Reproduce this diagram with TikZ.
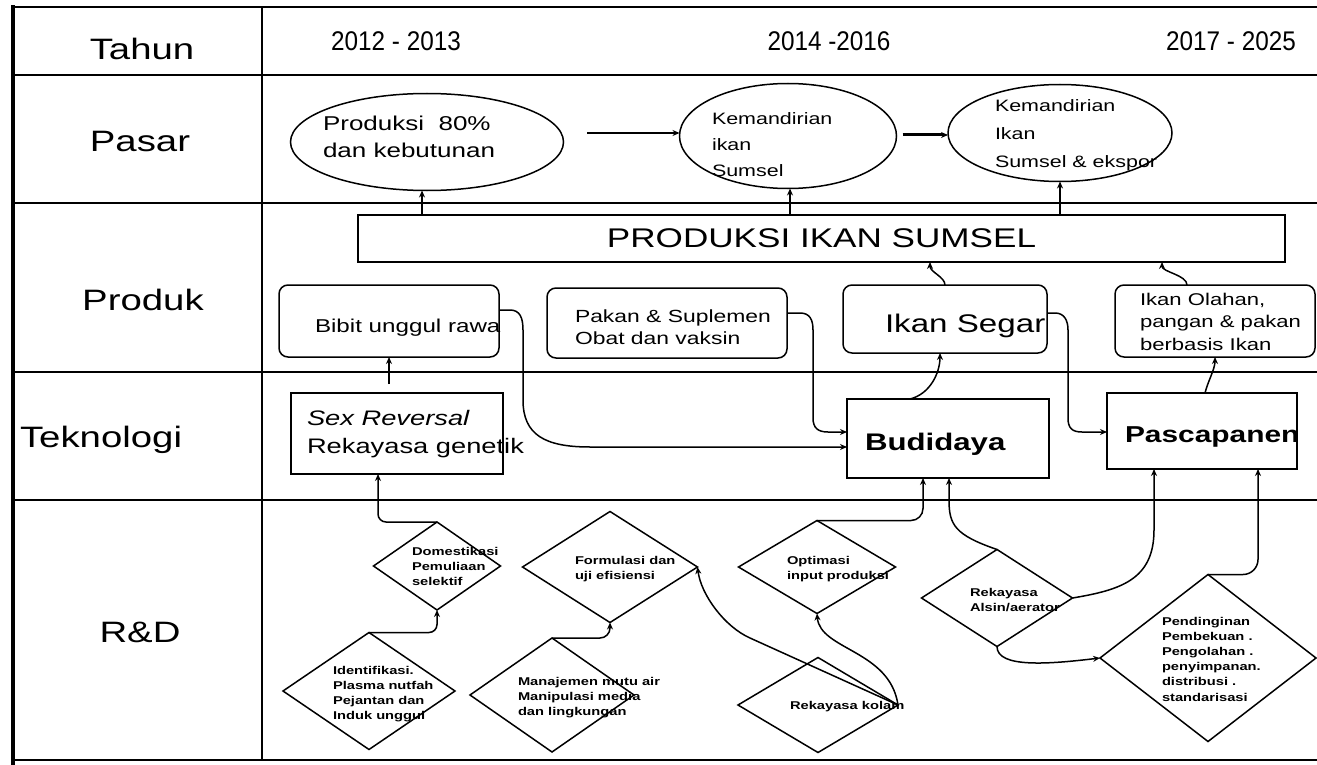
\documentclass[tikz,border=0pt]{standalone}
\usepackage{fontspec}
\setmainfont{Liberation Sans}[FakeStretch=1.3]
\newfontfamily\yearfont{Liberation Sans}[FakeStretch=0.9]
\usetikzlibrary{shapes.geometric,arrows.meta,calc}
\newcommand{\fsz}[2]{\fontsize{#1}{#2}\selectfont}
\begin{document}
\begin{tikzpicture}[x=1pt,y=-1pt,
  every node/.style={inner sep=0pt,outer sep=0pt},
  gridline/.style={line width=1.5pt},
  shp/.style={draw,line width=1.5pt},
  arr/.style={line width=1.5pt,-{Stealth[length=7pt,width=6pt]}},
  rowlbl/.style={font=\fsz{29.5}{30},anchor=base},
  yearlbl/.style={font=\yearfont\fsz{27}{27},anchor=base},
  ell/.style={shp,ellipse},
  rbox/.style={shp,rectangle,rounded corners=9pt},
  sbox/.style={shp,rectangle},
  dia/.style={shp,diamond},
  etxt/.style={align=left,anchor=north west},
  dtxt/.style={font=\bfseries\fsz{11.3}{15.2},align=left,anchor=north west},
]
\useasboundingbox (0,0) rectangle (1317,765);
% table grid
\draw[gridline] (13,7) -- (1317,7);
\draw[line width=3.5pt] (13,5.5) -- (13,765);
\draw[gridline] (262,7) -- (262,760);
\foreach \yy in {75,203,372,500} \draw[gridline] (13,\yy) -- (1317,\yy);
\draw[gridline] (13,760) -- (1317,760);
% row and column labels
\node[rowlbl] (tahun) at (142,60) {Tahun};
\node[rowlbl] (pasar) at (140,152) {Pasar};
\node[rowlbl] (produk) at (143,310) {Produk};
\node[rowlbl,anchor=base west] (tekno) at (20,447) {Teknologi};
\node[rowlbl] (rnd) at (140,642) {R\&D};
\node[yearlbl] (y1) at (396,51) {2012 - 2013};
\node[yearlbl] (y2) at (829,51) {2014 -2016};
\node[yearlbl] (y3) at (1231,51) {2017 - 2025};
% Pasar
\node[ell,minimum width=273pt,minimum height=97pt] (e1) at (427,142) {};
\node[ell,minimum width=217pt,minimum height=105pt] (e2) at (788,136) {};
\node[ell,minimum width=224pt,minimum height=97pt] (e3) at (1060,133) {};
\node[etxt,font=\fsz{20}{27}] (t1) at (323,116) {Produksi\ \ 80\%\\dan kebutunan};
\node[etxt,font=\fsz{16.5}{26}] (t2) at (712,113) {Kemandirian\\ikan\\Sumsel};
\node[etxt,font=\fsz{16.5}{28}] (t3) at (995,100) {Kemandirian\\Ikan\\Sumsel \& ekspor};
% Produksi box
\node[sbox,minimum width=927pt,minimum height=47pt,font=\fsz{27}{27}] (prod) at (821.5,238.5) {PRODUKSI IKAN SUMSEL};
% Produk
\node[rbox,minimum width=220pt,minimum height=72pt] (bibit) at (389,321) {};
\node[anchor=base west,font=\fsz{18.6}{20}] (tbibit) at (315,332) {Bibit unggul rawa};
\node[rbox,minimum width=240pt,minimum height=70pt] (pak) at (667,323) {};
\node[etxt,font=\fsz{17.6}{22}] (tpak) at (575,310) {Pakan \& Suplemen\\Obat dan vaksin};
\node[rbox,minimum width=204pt,minimum height=68pt] (seg) at (945,319) {};
\node[anchor=base west,font=\fsz{25.5}{26}] (tseg) at (885,332) {Ikan Segar};
\node[rbox,minimum width=200pt,minimum height=72pt] (olah) at (1215,321) {};
\node[etxt,font=\fsz{17}{22.5}] (tolah) at (1140,293) {Ikan Olahan,\\pangan \& pakan\\berbasis Ikan};
% Teknologi
\node[sbox,minimum width=212pt,minimum height=81pt] (sr) at (397,433.5) {};
\node[etxt,font=\fsz{21}{28}] (tsr) at (307,410) {\textit{Sex Reversal}\\Rekayasa genetik};
\node[sbox,minimum width=202pt,minimum height=79pt] (bud) at (948,438.5) {};
\node[anchor=base west,font=\bfseries\fsz{24}{24}] (tbud) at (865,450) {Budidaya};
\node[sbox,minimum width=190pt,minimum height=76pt] (pas) at (1202,431) {};
\node[anchor=base west,font=\bfseries\fsz{23}{23}] (tpas) at (1125,442) {Pascapanen};
% R&D
\node[dia,minimum width=172pt,minimum height=117pt] (id) at (369,691) {};
\node[dtxt] (tid) at (333,666) {Identifikasi.\\Plasma nutfah\\Pejantan dan\\Induk unggul};
\node[dia,minimum width=127pt,minimum height=88pt] (dom) at (437,566) {};
\node[dtxt] (tdom) at (412,547) {Domestikasi\\Pemuliaan\\selektif};
\node[dia,minimum width=175pt,minimum height=111pt] (form) at (610,567) {};
\node[dtxt] (tform) at (575,556) {Formulasi dan\\uji efisiensi};
\node[dia,minimum width=164pt,minimum height=114pt] (man) at (552,695) {};
\node[dtxt] (tman) at (518,677) {Manajemen mutu air\\Manipulasi media\\dan lingkungan};
\node[dia,minimum width=157pt,minimum height=93pt] (opt) at (817,567) {};
\node[dtxt] (topt) at (787,556) {Optimasi\\input produksi};
\node[dia,minimum width=160pt,minimum height=95pt] (kol) at (818,705) {};
\node[dtxt,anchor=base west] (tkol) at (790,709) {Rekayasa kolam};
\node[dia,minimum width=151pt,minimum height=97pt] (aer) at (997,598) {};
\node[dtxt] (taer) at (970,588) {Rekayasa\\Alsin/aerator};
\node[dia,minimum width=216pt,minimum height=167pt] (pend) at (1208,658) {};
\node[dtxt] (tpend) at (1162,617) {Pendinginan\\Pembekuan .\\Pengolahan .\\penyimpanan.\\distribusi .\\standarisasi};
% connectors: Pasar
\draw[arr] ($(e1.east)+(23.5,-9)$) -- ($(e2.west)+(0,-3)$);
\draw[arr,line width=3pt] ($(e2.east)+(6,-1)$) -- ($(e3.west)+(0,2)$);
\draw[arr] ($(prod.north west)+(64,0)$) coordinate (p1) -- (p1 |- e1.south);
\draw[arr] ($(prod.north west)+(432,0)$) coordinate (p2) -- (p2 |- e2.south);
\draw[arr] ($(prod.north west)+(702,0)$) coordinate (p3) -- (p3 |- e3.south);
% Produk to Produksi
\draw[arr] (seg.north) .. controls +(0,-8) and +(0,10) .. ($(prod.south west)+(572,0)$);
\draw[arr] ($(olah.north)+(-28,0)$) .. controls +(0,-10) and +(0,10) .. ($(prod.south west)+(804,0)$);
% Teknologi to Produk
\draw[arr] (bibit.south |- sr.north) ++(0,-9) -- (bibit.south);
\draw[arr] ($(bibit.east)+(0,-11)$) -- (510,310) .. controls (520,310) and (523,318) .. (523,330) -- (523,400) .. controls (523,435) and (545,447) .. (590,447) -- ($(bud.west)+(0,8.5)$);
\draw[arr] ($(pak.east)+(0,-10)$) -- (800,313) .. controls (810,313) and (813,320) .. (813,330) -- (813,418) .. controls (813,428) and (818,432) .. (828,432) -- ($(bud.west)+(0,-6.5)$);
\draw[arr] ($(seg.east)+(0,-6)$) -- (1055,313) .. controls (1064,313) and (1068,320) .. (1068,330) -- (1068,418) .. controls (1068,428) and (1072,432) .. (1082,432) -- ($(pas.west)+(0,1)$);
\draw[arr] ($(bud.north)+(-38,0)$) .. controls +(20,-5) and +(0,20) .. ($(seg.south)+(-5,0)$);
\draw[arr] ($(pas.north)+(3,0)$) .. controls +(3,-12) and +(0,12) .. (olah.south);
% R&D connectors
\draw[arr,rounded corners=8pt] (id.north) -| (dom.south);
\draw[arr,rounded corners=8pt] (dom.north) -| ($(sr.south)+(-19,0)$);
\draw[arr,rounded corners=10pt] (man.north) -| (form.south);
\draw[arr,rounded corners=12pt] (opt.north) -| ($(bud.south)+(-25,0)$);
\draw[arr] (aer.north) .. controls (955,535) and (949,525) .. (949,500) -- ($(bud.south)+(1,0)$);
\draw[arr] (aer.east) .. controls (1120,590) and (1154,580) .. (1154,530) -- ($(pas.south)+(-48,0)$);
\draw[arr] (aer.south) .. controls +(0,22) and +(-50,6) .. (pend.west);
\draw[arr,rounded corners=15pt] (pend.north) -| ($(pas.south)+(56,0)$);
\draw[arr] (kol.east) .. controls (890,650) and (820,650) .. (opt.south);
\draw[arr] (kol.east) -- (750,638) .. controls (725,627) and (701,595) .. (form.east);
\end{tikzpicture}
\end{document}
